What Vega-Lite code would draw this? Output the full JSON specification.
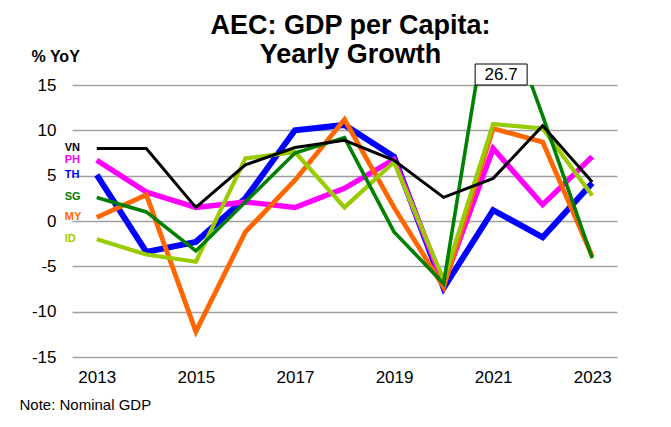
{
  "$schema": "https://vega.github.io/schema/vega-lite/v6.json",
  "width": 545,
  "height": 272,
  "autosize": "none",
  "padding": {"left": 72, "top": 85, "right": 54, "bottom": 70},
  "background": "white",
  "config": {
    "font": "Liberation Sans",
    "view": {"stroke": null},
    "axis": {"labelColor": "black", "titleColor": "black", "labelFont": "Liberation Sans", "titleFont": "Liberation Sans"}
  },
  "title": {
    "text": ["AEC: GDP per Capita:", "Yearly Growth"],
    "fontSize": 27,
    "fontWeight": "bold",
    "lineHeight": 29,
    "anchor": "middle",
    "frame": "group",
    "dx": 6,
    "dy": 25,
    "offset": 4,
    "color": "black"
  },
  "data": {
    "values": [
      {"year": 2013, "series": "TH", "value": 5.1},
      {"year": 2014, "series": "TH", "value": -3.4},
      {"year": 2015, "series": "TH", "value": -2.3},
      {"year": 2016, "series": "TH", "value": 2.5},
      {"year": 2017, "series": "TH", "value": 10.0},
      {"year": 2018, "series": "TH", "value": 10.6},
      {"year": 2019, "series": "TH", "value": 7.1},
      {"year": 2020, "series": "TH", "value": -7.4},
      {"year": 2021, "series": "TH", "value": 1.2},
      {"year": 2022, "series": "TH", "value": -1.8},
      {"year": 2023, "series": "TH", "value": 4.2},
      {"year": 2013, "series": "PH", "value": 6.7},
      {"year": 2014, "series": "PH", "value": 3.2},
      {"year": 2015, "series": "PH", "value": 1.5},
      {"year": 2016, "series": "PH", "value": 2.1},
      {"year": 2017, "series": "PH", "value": 1.5},
      {"year": 2018, "series": "PH", "value": 3.6},
      {"year": 2019, "series": "PH", "value": 6.8},
      {"year": 2020, "series": "PH", "value": -6.9},
      {"year": 2021, "series": "PH", "value": 8.0},
      {"year": 2022, "series": "PH", "value": 1.8},
      {"year": 2023, "series": "PH", "value": 7.1},
      {"year": 2013, "series": "MY", "value": 0.4},
      {"year": 2014, "series": "MY", "value": 2.9},
      {"year": 2015, "series": "MY", "value": -12.2},
      {"year": 2016, "series": "MY", "value": -1.2},
      {"year": 2017, "series": "MY", "value": 4.5},
      {"year": 2018, "series": "MY", "value": 11.2},
      {"year": 2019, "series": "MY", "value": 1.5},
      {"year": 2020, "series": "MY", "value": -7.3},
      {"year": 2021, "series": "MY", "value": 10.2},
      {"year": 2022, "series": "MY", "value": 8.7},
      {"year": 2023, "series": "MY", "value": -3.9},
      {"year": 2013, "series": "ID", "value": -2.0},
      {"year": 2014, "series": "ID", "value": -3.7},
      {"year": 2015, "series": "ID", "value": -4.5},
      {"year": 2016, "series": "ID", "value": 6.9},
      {"year": 2017, "series": "ID", "value": 7.6},
      {"year": 2018, "series": "ID", "value": 1.5},
      {"year": 2019, "series": "ID", "value": 6.5},
      {"year": 2020, "series": "ID", "value": -6.5},
      {"year": 2021, "series": "ID", "value": 10.7},
      {"year": 2022, "series": "ID", "value": 10.2},
      {"year": 2023, "series": "ID", "value": 2.8},
      {"year": 2013, "series": "SG", "value": 2.6},
      {"year": 2014, "series": "SG", "value": 1.0},
      {"year": 2015, "series": "SG", "value": -3.3},
      {"year": 2016, "series": "SG", "value": 2.1},
      {"year": 2017, "series": "SG", "value": 7.5},
      {"year": 2018, "series": "SG", "value": 9.2},
      {"year": 2019, "series": "SG", "value": -1.2},
      {"year": 2020, "series": "SG", "value": -6.9},
      {"year": 2021, "series": "SG", "value": 26.7},
      {"year": 2022, "series": "SG", "value": 11.6},
      {"year": 2023, "series": "SG", "value": -4.1},
      {"year": 2013, "series": "VN", "value": 8.0},
      {"year": 2014, "series": "VN", "value": 8.0},
      {"year": 2015, "series": "VN", "value": 1.5},
      {"year": 2016, "series": "VN", "value": 6.2},
      {"year": 2017, "series": "VN", "value": 8.1},
      {"year": 2018, "series": "VN", "value": 8.9},
      {"year": 2019, "series": "VN", "value": 6.7},
      {"year": 2020, "series": "VN", "value": 2.6},
      {"year": 2021, "series": "VN", "value": 4.7},
      {"year": 2022, "series": "VN", "value": 10.5},
      {"year": 2023, "series": "VN", "value": 4.3}
    ]
  },
  "encoding": {
    "x": {
      "field": "year",
      "type": "quantitative",
      "scale": {"domain": [2012.5, 2023.5], "nice": false, "zero": false},
      "axis": {
        "values": [2013, 2015, 2017, 2019, 2021, 2023],
        "format": "d",
        "labelFontSize": 17,
        "labelPadding": 12,
        "domain": false,
        "ticks": false,
        "grid": false,
        "title": "Note: Nominal GDP",
        "titleFontSize": 15,
        "titleFontWeight": "normal",
        "titleAngle": 0,
        "titleAlign": "left",
        "titleBaseline": "middle",
        "titleX": -53,
        "titleY": 47
      }
    },
    "y": {
      "field": "value",
      "type": "quantitative",
      "scale": {"domain": [-15, 15], "nice": false, "zero": false},
      "axis": {
        "values": [-15, -10, -5, 0, 5, 10, 15],
        "labelExpr": "datum.value < 0 ? '-' + abs(datum.value) : '' + datum.value",
        "labelFontSize": 17,
        "labelPadding": 16,
        "domain": false,
        "ticks": false,
        "grid": true,
        "gridColor": "#a0a0a0",
        "gridWidth": 1.3,
        "title": "% YoY",
        "titleFontSize": 16,
        "titleFontWeight": "bold",
        "titleAngle": 0,
        "titleAlign": "left",
        "titleBaseline": "middle",
        "titleX": -41,
        "titleY": -29
      }
    }
  },
  "layer": [
    {
      "mark": {"type": "line", "clip": true},
      "encoding": {
        "color": {
          "field": "series",
          "type": "nominal",
          "scale": {"domain": ["TH", "PH", "MY", "ID", "SG", "VN"], "range": ["#0000ff", "#ff00ff", "#ff6600", "#99cc00", "#008000", "#000000"]},
          "legend": null
        },
        "strokeWidth": {
          "field": "series",
          "type": "nominal",
          "scale": {"domain": ["TH", "PH", "MY", "ID", "SG", "VN"], "range": [6, 3, 3, 3.5, 3.5, 1.3]},
          "legend": null
        }
      }
    },
    {
      "transform": [{"filter": "datum.year === 2013"}],
      "mark": {"type": "text", "align": "left", "baseline": "middle", "dx": -32, "fontSize": 11, "fontWeight": "bold"},
      "encoding": {
        "text": {"field": "series"},
        "color": {"field": "series", "type": "nominal", "legend": null}
      }
    },
    {
      "transform": [{"filter": "datum.value > 15"}],
      "mark": {"type": "rect", "width": 52, "height": 21, "fill": "white", "stroke": "black", "strokeWidth": 1, "xOffset": 8, "yOffset": -10.5},
      "encoding": {
        "y": {"datum": 15}
      }
    },
    {
      "transform": [{"filter": "datum.value > 15"}],
      "mark": {"type": "text", "baseline": "middle", "align": "center", "fontSize": 17, "color": "black", "xOffset": 8, "yOffset": -10.5},
      "encoding": {
        "y": {"datum": 15},
        "text": {"field": "value", "format": ".1f"}
      }
    },
    {
      "data": {"values": [{}]},
      "mark": {"type": "text", "text": "PH", "align": "left", "baseline": "middle", "dx": 31, "fontSize": 18, "fontWeight": "bold", "color": "#ff00ff"},
      "encoding": {"x": {"datum": 2023}, "y": {"datum": 9.1}}
    },
    {
      "data": {"values": [{}]},
      "mark": {"type": "text", "text": "VN", "align": "left", "baseline": "middle", "dx": 31, "fontSize": 18, "fontWeight": "bold", "color": "#000000"},
      "encoding": {"x": {"datum": 2023}, "y": {"datum": 6.7}}
    },
    {
      "data": {"values": [{}]},
      "mark": {"type": "text", "text": "TH", "align": "left", "baseline": "middle", "dx": 31, "fontSize": 18, "fontWeight": "bold", "color": "#0000ff"},
      "encoding": {"x": {"datum": 2023}, "y": {"datum": 4.2}}
    },
    {
      "data": {"values": [{}]},
      "mark": {"type": "text", "text": "ID", "align": "left", "baseline": "middle", "dx": 31, "fontSize": 18, "fontWeight": "bold", "color": "#92d050"},
      "encoding": {"x": {"datum": 2023}, "y": {"datum": 1.9}}
    },
    {
      "data": {"values": [{}]},
      "mark": {"type": "text", "text": "MY", "align": "left", "baseline": "middle", "dx": 31, "fontSize": 18, "fontWeight": "bold", "color": "#ff6600"},
      "encoding": {"x": {"datum": 2023}, "y": {"datum": -3.75}}
    },
    {
      "data": {"values": [{}]},
      "mark": {"type": "text", "text": "SG", "align": "left", "baseline": "middle", "dx": 31, "fontSize": 18, "fontWeight": "bold", "color": "#008000"},
      "encoding": {"x": {"datum": 2023}, "y": {"datum": -6.1}}
    }
  ]
}
